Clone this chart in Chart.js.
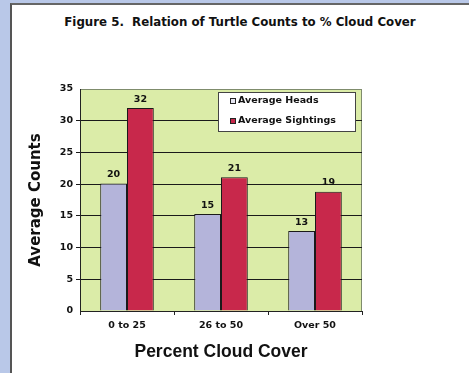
<!DOCTYPE html>
<html>
<head>
<meta charset="utf-8">
<script src="https://cdn.jsdelivr.net/npm/chart.js@4"></script>
<style>
  body { margin: 0; background: #b9c8e8; width: 469px; height: 373px; overflow: hidden; position: relative; }
  #panel { position: absolute; left: 10px; top: 3px; width: 470px; height: 380px; background: #fff; border-left: 2px solid #555; border-top: 2px solid #666; }
  #titulo { position: absolute; left: 0; top: 15px; width: 480px; text-align: center; font: bold 11.8px "DejaVu Sans", sans-serif; color: #111; white-space: pre; }
  #grafico { position: absolute; left: 0; top: 0; }
</style>
</head>
<body>
<div id="panel"></div>
<div id="titulo">Figure 5.  Relation of Turtle Counts to % Cloud Cover</div>
<canvas id="grafico" width="469" height="373"></canvas>
<script>
const categorias = ['0 to 25', '26 to 50', 'Over 50'];
const promedioCabezas = [20.1, 15.3, 12.6];
const promedioAvistamientos = [32, 21.1, 18.8];
const ticksY = [0, 5, 10, 15, 20, 25, 30, 35];

const fuente = '"DejaVu Sans", sans-serif';
const fuenteArial = '"Liberation Sans", Arial, sans-serif';

// fondo verde y borde del area de trazado
const fondoArea = {
  id: 'fondoArea',
  beforeDraw(chart) {
    const { ctx, chartArea: a } = chart;
    ctx.save();
    ctx.fillStyle = '#dbeca8';
    ctx.fillRect(a.left, a.top, a.right - a.left, a.bottom - a.top);
    ctx.strokeStyle = '#7f8c6c';
    ctx.lineWidth = 1;
    ctx.strokeRect(a.left + 0.5, a.top + 0.5, a.right - a.left - 1, a.bottom - a.top);
    ctx.restore();
  }
};

// numeros encima de las barras
const etiquetas = {
  id: 'etiquetas',
  afterDatasetsDraw(chart) {
    const { ctx } = chart;
    ctx.save();
    ctx.font = 'bold 9.5px ' + fuente;
    ctx.fillStyle = '#111';
    ctx.textAlign = 'center';
    ctx.textBaseline = 'bottom';
    chart.data.datasets.forEach((ds, i) => {
      chart.getDatasetMeta(i).data.forEach((bar, j) => {
        ctx.fillText(Math.round(ds.data[j]), bar.x, bar.y - 4);
      });
    });
    ctx.restore();
  }
};

// leyenda dentro del area
const leyenda = {
  id: 'leyenda',
  afterDraw(chart) {
    const { ctx, chartArea: a } = chart;
    const x = a.right - 144, y = a.top + 3, w = 137, h = 39;
    ctx.save();
    ctx.fillStyle = '#fff';
    ctx.fillRect(x, y, w, h);
    ctx.strokeStyle = '#444';
    ctx.lineWidth = 1;
    ctx.strokeRect(x + 0.5, y + 0.5, w, h);
    ctx.font = 'bold 9.5px ' + fuente;
    ctx.textBaseline = 'middle';
    chart.data.datasets.forEach((ds, i) => {
      const fy = y + 9 + i * 20;
      ctx.fillStyle = i === 0 ? '#e6e6f2' : ds.backgroundColor;
      ctx.fillRect(x + 12, fy - 3, 6, 6);
      ctx.strokeStyle = '#222';
      ctx.strokeRect(x + 12.5, fy - 2.5, 5, 5);
      ctx.fillStyle = '#111';
      ctx.fillText(ds.label, x + 20, fy);
    });
    ctx.restore();
  }
};

new Chart(document.getElementById('grafico'), {
  type: 'bar',
  data: {
    labels: categorias,
    datasets: [
      { label: 'Average Heads', data: promedioCabezas, backgroundColor: '#b4b4da', borderColor: '#1a1a1a', borderWidth: 1 },
      { label: 'Average Sightings', data: promedioAvistamientos, backgroundColor: '#c8284b', borderColor: '#1a1a1a', borderWidth: 1 }
    ]
  },
  options: {
    responsive: false,
    animation: false,
    categoryPercentage: 0.57,
    barPercentage: 1,
    layout: { padding: { left: 27, right: 107, top: 89, bottom: 10 } },
    plugins: { legend: { display: false }, tooltip: { enabled: false } },
    scales: {
      x: {
        afterFit(s) { s.height = 52; },
        grid: { drawOnChartArea: false, tickLength: 4, color: '#222' },
        border: { color: '#222', width: 1 },
        ticks: { color: '#111', padding: 5, font: { family: fuente, size: 9.5, weight: 'bold' } },
        title: { display: true, text: 'Percent Cloud Cover', color: '#111', padding: { top: 4, bottom: 0 }, font: { family: fuenteArial, size: 17.5, weight: 'bold' } }
      },
      y: {
        min: 0,
        max: 35,
        afterFit(s) { s.width = 53; },
        afterBuildTicks(s) { s.ticks = ticksY.map(v => ({ value: v })); },
        grid: {
          tickLength: 4,
          color: c => (c.tick && (c.tick.value === 0 || c.tick.value === 35)) ? 'rgba(0,0,0,0)' : '#1a1a1a'
        },
        border: { color: '#222', width: 1 },
        ticks: { color: '#111', padding: 3, font: { family: fuente, size: 9.5, weight: 'bold' } },
        title: { display: true, text: 'Average Counts', color: '#111', padding: { top: 0, bottom: 0 }, font: { family: fuente, size: 15, weight: 'bold' } }
      }
    }
  },
  plugins: [fondoArea, etiquetas, leyenda]
});
</script>
</body>
</html>
